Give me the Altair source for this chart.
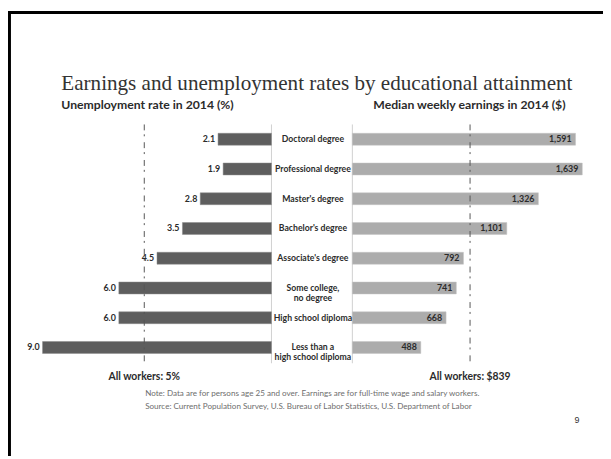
import altair as alt
import pandas as pd

categories = ["Doctoral degree", "Professional degree", "Master's degree", "Bachelor's degree",
              "Associate's degree", "Some college,\nno degree", "High school diploma",
              "Less than a\nhigh school diploma"]
unemployment = [2.1, 1.9, 2.8, 3.5, 4.5, 6.0, 6.0, 9.0]
earnings = [1591, 1639, 1326, 1101, 792, 741, 668, 488]
all_workers_rate = [5]
all_workers_earnings = [839]

title_text = "Earnings and unemployment rates by educational attainment"
left_sub = "Unemployment rate in 2014 (%)"
right_sub = "Median weekly earnings in 2014 ($)"
left_all = "All workers: 5%"
right_all = "All workers: $839"
note_lines = ["Note: Data are for persons age 25 and over. Earnings are for full-time wage and salary workers.",
              "Source: Current Population Survey, U.S. Bureau of Labor Statistics, U.S. Department of Labor"]
page_no = "9"

df = pd.DataFrame({"category": categories, "rate": unemployment, "earn": earnings})
base = alt.Chart(df)

SANS = "Lato"
DARK = "#2b2b2b"

yscale = alt.Scale(range=[114.9, 356.1], paddingInner=0.6, paddingOuter=0.3)
Y = alt.Y("category:N", sort=categories, axis=None, scale=yscale)
xl = alt.Scale(domain=[0, 9], range=[267, 35], nice=False, zero=True)
xr = alt.Scale(domain=[0, 1639], range=[349, 582], nice=False, zero=True)

left_bars = base.mark_bar(color="#5e5e5e", stroke="#8a8a8a", strokeWidth=0.5).encode(
    x=alt.X("rate:Q", scale=xl, axis=None), y=Y)
left_labels = base.mark_text(align="right", baseline="middle", dx=-3, fontSize=9,
                             fontWeight="bold", font=SANS, color=DARK).encode(
    x=alt.X("rate:Q", scale=xl, axis=None), y=Y, text=alt.Text("rate:Q", format=".1f"))

right_bars = base.mark_bar(color="#acacac", stroke="#c4c4c4", strokeWidth=0.5).encode(
    x=alt.X("earn:Q", scale=xr, axis=None), y=Y)
right_labels = base.mark_text(align="right", baseline="middle", dx=-4, fontSize=9,
                              fontWeight="bold", font=SANS, color=DARK).encode(
    x=alt.X("earn:Q", scale=xr, axis=None), y=Y, text=alt.Text("earn:Q", format=","))

cat_labels = base.mark_text(align="center", baseline="middle", lineBreak="\n", fontSize=8.8,
                            fontWeight="bold", font=SANS, color=DARK, lineHeight=10).encode(
    x=alt.value(309), y=Y, text="category:N")

zero_df = pd.DataFrame({"v": [0]})
left_zero = alt.Chart(zero_df).mark_rule(color="#cfcfcf", strokeWidth=1).encode(
    x=alt.X("v:Q", scale=xl, axis=None), y=alt.value(115), y2=alt.value(357))
right_zero = alt.Chart(zero_df).mark_rule(color="#cfcfcf", strokeWidth=1).encode(
    x=alt.X("v:Q", scale=xr, axis=None), y=alt.value(115), y2=alt.value(357))

left_ref_df = pd.DataFrame({"v": all_workers_rate, "t": [left_all]})
right_ref_df = pd.DataFrame({"v": all_workers_earnings, "t": [right_all]})
dash = [6, 4, 2, 6]
left_ref = alt.Chart(left_ref_df).mark_rule(color="#555555", strokeWidth=1, strokeDash=dash).encode(
    x=alt.X("v:Q", scale=xl, axis=None), y=alt.value(115), y2=alt.value(357))
right_ref = alt.Chart(right_ref_df).mark_rule(color="#555555", strokeWidth=1, strokeDash=dash).encode(
    x=alt.X("v:Q", scale=xr, axis=None), y=alt.value(115), y2=alt.value(357))
left_ref_txt = alt.Chart(left_ref_df).mark_text(align="center", baseline="alphabetic", fontSize=10.5,
                                                fontWeight="bold", font=SANS, color=DARK).encode(
    x=alt.X("v:Q", scale=xl, axis=None), y=alt.value(374), text="t:N")
right_ref_txt = alt.Chart(right_ref_df).mark_text(align="center", baseline="alphabetic", fontSize=10.5,
                                                  fontWeight="bold", font=SANS, color=DARK).encode(
    x=alt.X("v:Q", scale=xr, axis=None), y=alt.value(374), text="t:N")

def label(text, x, y, **kw):
    return alt.Chart(pd.DataFrame({"t": [text]})).mark_text(**kw).encode(
        x=alt.value(x), y=alt.value(y), text="t:N")

title = label(title_text, 54, 80, align="left", baseline="alphabetic", font="Liberation Serif",
              fontSize=21.4, color="#333333")
sub_l = label(left_sub, 54, 99, align="left", baseline="alphabetic", font=SANS, fontSize=12.4,
              fontWeight="bold", color=DARK)
sub_r = label(right_sub, 565, 99, align="right", baseline="alphabetic", font=SANS, fontSize=12.4,
              fontWeight="bold", color=DARK)
note1 = label(note_lines[0], 139, 390, align="left", baseline="alphabetic", font=SANS, fontSize=8.2,
              color="#6e6e6e")
note2 = label(note_lines[1], 139, 403, align="left", baseline="alphabetic", font=SANS, fontSize=8.2,
              color="#6e6e6e")
pnum = label(page_no, 574, 418, align="left", baseline="alphabetic", font="Liberation Sans",
             fontSize=9, color="#333333")

frame_df = pd.DataFrame({"v": [0]})
border_left = alt.Chart(frame_df).mark_rule(color="#000000", strokeWidth=3).encode(
    x=alt.value(1.5), y=alt.value(0), y2=alt.value(451))
border_top = alt.Chart(frame_df).mark_rule(color="#000000", strokeWidth=3).encode(
    x=alt.value(0), x2=alt.value(603), y=alt.value(1.5))

chart = alt.layer(
    left_zero, right_zero, left_bars, right_bars, left_ref, right_ref,
    left_labels, right_labels, cat_labels, left_ref_txt, right_ref_txt,
    title, sub_l, sub_r, note1, note2, pnum, border_left, border_top
).resolve_scale(x="independent").properties(
    width=603, height=451, autosize=alt.AutoSizeParams(type="none"), padding=0,
    background="white"
).configure_view(stroke=None)

chart.save("out.html", embed_options={"renderer": "svg", "actions": False})
